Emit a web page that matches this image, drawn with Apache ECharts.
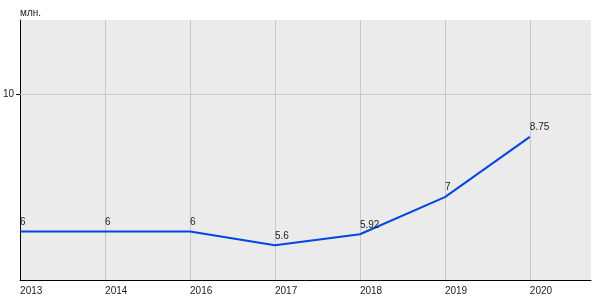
<!DOCTYPE html>
<html><head><meta charset="utf-8">
<script src="https://cdn.jsdelivr.net/npm/echarts@6/dist/echarts.min.js"></script>
<style>html,body{margin:0;padding:0;background:#fff}#c{width:600px;height:300px}</style>
</head><body><div id="c"></div>
<script>
const categories = ['2013', '2014', '2016', '2017', '2018', '2019', '2020'];
const values = [6, 6, 6, 5.6, 5.92, 7, 8.75];
const yTicks = [10];
const yName = 'млн.';

const chart = echarts.init(document.getElementById('c'), null, {renderer: 'canvas'});
const font = 'Liberation Sans, Arial, sans-serif';
chart.setOption({
  animation: false,
  grid: {left: 20, right: 9, top: 20, bottom: 20, backgroundColor: '#ebebeb', show: true, borderWidth: 0},
  xAxis: {
    type: 'value', min: 0, max: 6.72, interval: 1,
    axisLine: {show: true, lineStyle: {color: '#000', width: 1}},
    axisTick: {show: false},
    splitLine: {show: true, showMinLine: false, showMaxLine: false, lineStyle: {color: '#c8c8c8', width: 1}},
    axisLabel: {
      align: 'left', margin: 6, color: '#222', fontSize: 10, fontFamily: font,
      formatter: v => (Number.isInteger(v) && categories[v] !== undefined) ? categories[v] : ''
    }
  },
  yAxis: {
    type: 'value', min: 4.59, max: 12.15,
    name: yName, nameLocation: 'end', nameGap: 2,
    nameTextStyle: {align: 'left', verticalAlign: 'bottom', color: '#222', fontSize: 10, fontFamily: font},
    axisLine: {show: true, lineStyle: {color: '#000', width: 1}},
    axisTick: {show: true, customValues: yTicks, length: 4, lineStyle: {color: '#000'}},
    axisLabel: {customValues: yTicks, margin: 6, color: '#222', fontSize: 10, fontFamily: font},
    splitLine: {show: false}
  },
  series: [{
    type: 'line',
    data: values.map((v, i) => [i, v]),
    symbol: 'circle', symbolSize: 1, showSymbol: true,
    itemStyle: {color: 'rgba(0,0,0,0)', borderWidth: 0},
    lineStyle: {color: '#0046e0', width: 2},
    label: {show: true, position: 'top', align: 'left', distance: 4, color: '#222', fontSize: 10, fontFamily: font},
    markLine: {
      silent: true, symbol: 'none', label: {show: false},
      lineStyle: {color: '#c8c8c8', width: 1, type: 'solid'},
      data: yTicks.map(t => ({yAxis: t}))
    },
    z: 3
  }]
});
</script></body></html>
